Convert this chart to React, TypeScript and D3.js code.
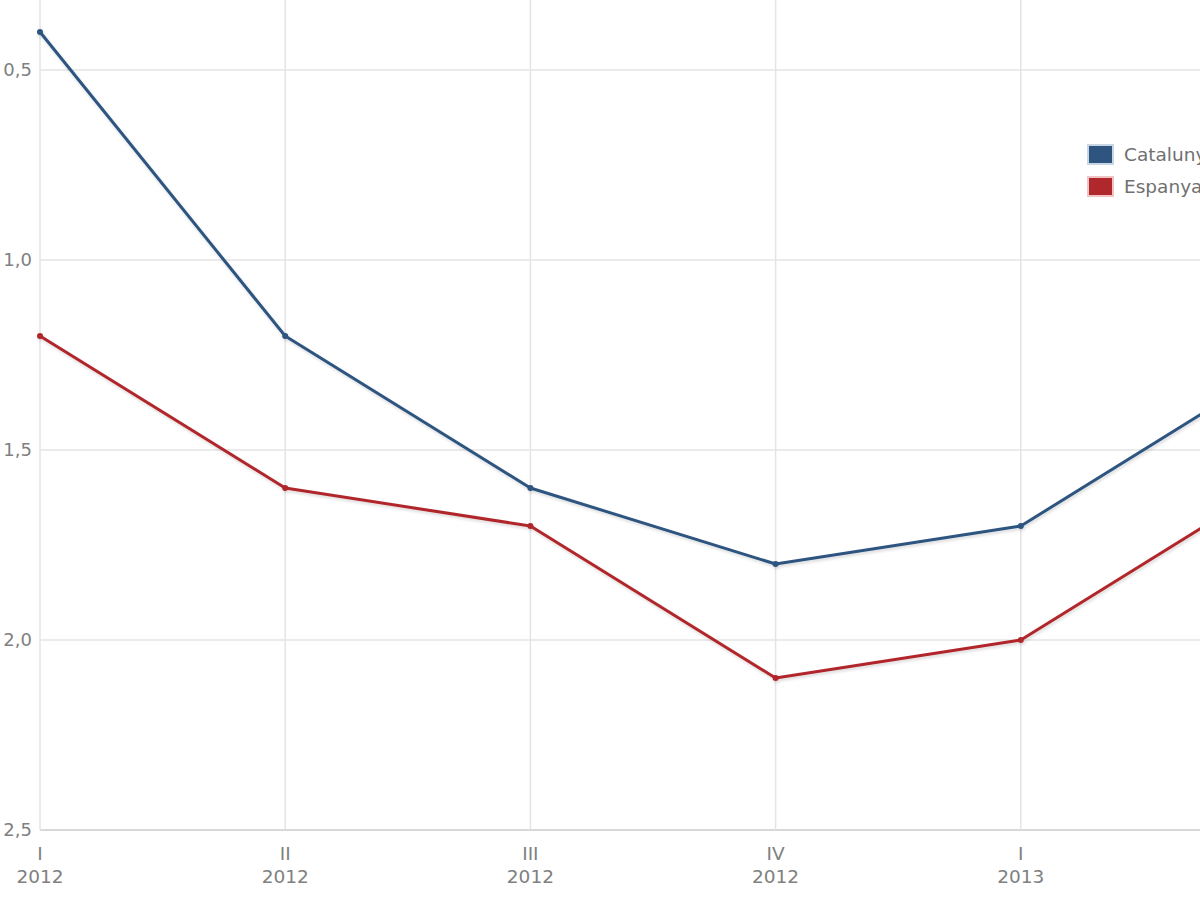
import React from "react";
import * as d3 from "d3";

const quarters = ["I", "II", "III", "IV", "I", "II"];
const years = ["2012", "2012", "2012", "2012", "2013", "2013"];
const catalunya = [0.4, 1.2, 1.6, 1.8, 1.7, 1.3];
const espanya = [1.2, 1.6, 1.7, 2.1, 2.0, 1.6];
const yTicks = [0.5, 1.0, 1.5, 2.0, 2.5];
const seriesNames = ["Catalunya", "Espanya"];
const seriesColors = ["#2d5580", "#b1282c"];

const W = 1200;
const H = 900;

export default function App() {
  const x = d3.scaleLinear().domain([0, 5]).range([40, 1266]);
  const y = d3.scaleLinear().domain([0.5, 2.5]).range([70, 830]);
  const line = d3
    .line<number>()
    .x((_, i) => x(i))
    .y((d) => y(d));
  const fmt = (v: number) => v.toFixed(1).replace(".", ",");
  const series = [catalunya, espanya];
  const font = "Verdana, 'DejaVu Sans', sans-serif";

  return (
    <svg
      width={W}
      height={H}
      style={{ position: "absolute", left: 0, top: 0, background: "#fff" }}
      fontFamily={font}
    >
      <defs>
        <clipPath id="plot">
          <rect x={0} y={0} width={W} height={H} />
        </clipPath>
        <filter id="shadow" x="-10%" y="-10%" width="120%" height="120%">
          <feDropShadow dx="1" dy="2" stdDeviation="1.5" floodColor="#000" floodOpacity="0.15" />
        </filter>
      </defs>
      {yTicks.map((t) => (
        <g key={"y" + t}>
          <line x1={40} x2={W} y1={y(t)} y2={y(t)} stroke={t === 2.5 ? "#d8d8d8" : "#e4e4e4"} strokeWidth={t === 2.5 ? 2 : 1.5} />
          <text x={32} y={y(t)} dy="0.35em" textAnchor="end" fontSize={18} fill="#808080">
            {fmt(t)}
          </text>
        </g>
      ))}
      {quarters.map((q, i) => (
        <g key={"x" + i}>
          <line x1={x(i)} x2={x(i)} y1={0} y2={830} stroke="#e4e4e4" strokeWidth={1.5} />
          <text x={x(i)} y={860} textAnchor="middle" fontSize={18.5} fill="#808080">
            {q}
          </text>
          <text x={x(i)} y={883} textAnchor="middle" fontSize={18.5} fill="#808080">
            {years[i]}
          </text>
        </g>
      ))}
      <g clipPath="url(#plot)">
        {series.map((s, k) => (
          <g key={"s" + k} filter="url(#shadow)">
            <path d={line(s) || ""} fill="none" stroke={seriesColors[k]} strokeWidth={3} strokeLinejoin="round" />
            {s.map((v, i) => (
              <circle key={i} cx={x(i)} cy={y(v)} r={3} fill={seriesColors[k]} />
            ))}
          </g>
        ))}
      </g>
      {seriesNames.map((n, k) => (
        <g key={"l" + k}>
          <rect
            x={1088}
            y={145 + k * 32}
            width={25}
            height={19}
            fill={seriesColors[k]}
            stroke={k === 0 ? "#c9d6e4" : "#f0c4c4"}
            strokeWidth={2}
          />
          <text x={1124} y={155 + k * 32} dy="0.35em" fontSize={18.5} fill="#707070">
            {n}
          </text>
        </g>
      ))}
    </svg>
  );
}
